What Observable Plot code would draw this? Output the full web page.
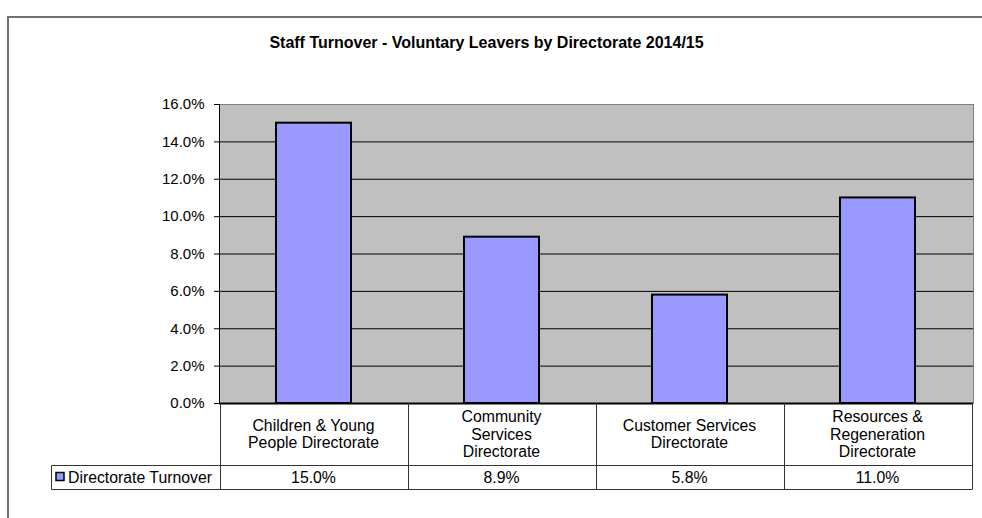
<!DOCTYPE html>
<html>
<head>
<meta charset="utf-8">
<script src="https://cdn.jsdelivr.net/npm/d3@7"></script>
<script src="https://cdn.jsdelivr.net/npm/@observablehq/plot@0.6"></script>
<style>
  html, body { margin: 0; padding: 0; background: #fff; }
  #chart svg { display: block; }
</style>
</head>
<body>
<div id="chart"></div>
<script>
const title = "Staff Turnover - Voluntary Leavers by Directorate 2014/15";
const categories = [
  "Children & Young People Directorate",
  "Community Services Directorate",
  "Customer Services Directorate",
  "Resources & Regeneration Directorate"
];
const categoryLabels = [
  ["Children & Young", "People Directorate"],
  ["Community", "Services", "Directorate"],
  ["Customer Services", "Directorate"],
  ["Resources &", "Regeneration", "Directorate"]
];
const turnover = [0.150, 0.089, 0.058, 0.110];
const valueLabels = ["15.0%", "8.9%", "5.8%", "11.0%"];
const seriesName = "Directorate Turnover";
const yTicks = [0, 0.02, 0.04, 0.06, 0.08, 0.10, 0.12, 0.14, 0.16];

const data = categories.map((c, i) => ({category: c, value: turnover[i]}));

const FONT = "'Liberation Sans', Arial, Helvetica, sans-serif";

const chart = Plot.plot({
  width: 982,
  height: 518,
  marginLeft: 219,
  marginRight: 9,
  marginTop: 104,
  marginBottom: 115,
  style: {fontFamily: FONT, fontSize: "15px", background: "#fff", color: "#000", overflow: "visible"},
  x: {type: "band", domain: categories, paddingInner: 0.6, paddingOuter: 0.3, axis: null},
  y: {domain: [0, 0.16], axis: null},
  marks: [
    Plot.frame({fill: "#c0c0c0", stroke: "#808080"}),
    Plot.ruleY(yTicks.slice(1, -1), {stroke: "#000", strokeWidth: 1}),
    Plot.barY(data, {x: "category", y: "value", fill: "#9999ff", stroke: "#000", strokeWidth: 2}),
    Plot.frame({anchor: "left", stroke: "#000"}),
    Plot.ruleY([0], {stroke: "#000", strokeWidth: 2}),
    Plot.axisY({ticks: yTicks, tickFormat: d3.format(".1%"), tickSize: 5, tickPadding: 10, fontSize: 15, label: null}),
    Plot.text([title], {frameAnchor: "top", lineAnchor: "middle", dx: -110, dy: -62,
      fontWeight: "bold", fontSize: 16, fill: "#000"})
  ]
});

document.getElementById("chart").appendChild(chart);

// Data table under the plot, positioned with Plot's own scales
const xs = chart.scale("x");
const ys = chart.scale("y");
const svg = d3.select(chart);
const g = svg.append("g")
  .attr("font-family", FONT).attr("font-size", 15.8).attr("fill", "#000")
  .attr("text-anchor", "middle").attr("stroke", "none");

const step = xs.step, bw = xs.bandwidth;
const centers = categories.map(c => xs.apply(c) + bw / 2);
const lefts = centers.map(c => c - step / 2);
const tableRight = centers[centers.length - 1] + step / 2;
const tableTop = ys.apply(0);
const rowSplit = tableTop + 62;
const tableBottom = rowSplit + 24;
const legendLeft = 51;

// outer chart border
svg.append("path")
  .attr("d", "M8,518V17H982")
  .attr("fill", "none").attr("stroke", "#707070").attr("stroke-width", 2);

const lineCol = "#333";
svg.append("path")
  .attr("fill", "none").attr("stroke", lineCol).attr("stroke-width", 1)
  .attr("d", [
    ...[...lefts, tableRight].map(x => `M${Math.round(x) + 0.5},${tableTop}V${tableBottom + 0.5}`),
    `M${legendLeft + 0.5},${rowSplit + 0.5}H${tableRight + 0.5}`,
    `M${legendLeft + 0.5},${tableBottom + 0.5}H${tableRight + 0.5}`,
    `M${legendLeft + 0.5},${rowSplit + 0.5}V${tableBottom + 0.5}`
  ].join(""));

// category labels
const lh = 17.8;
categoryLabels.forEach((lines, i) => {
  const cy = (tableTop + rowSplit) / 2;
  lines.forEach((t, j) => {
    g.append("text").attr("x", centers[i]).attr("y", cy + (j - (lines.length - 1) / 2) * lh)
      .attr("text-anchor", "middle").attr("dy", "0.35em").text(t);
  });
});
// values
const vy = (rowSplit + tableBottom) / 2;
valueLabels.forEach((t, i) => {
  g.append("text").attr("x", centers[i]).attr("y", vy).attr("text-anchor", "middle")
    .attr("dy", "0.35em").text(t);
});
// legend key
g.append("rect").attr("x", 56).attr("y", vy - 4.5).attr("width", 8).attr("height", 8)
  .attr("fill", "#9999ff").attr("stroke", "#000").attr("stroke-width", 1.5);
g.append("text").attr("x", 68).attr("y", vy).attr("dy", "0.35em")
  .attr("text-anchor", "start").text(seriesName);
</script>
</body>
</html>
